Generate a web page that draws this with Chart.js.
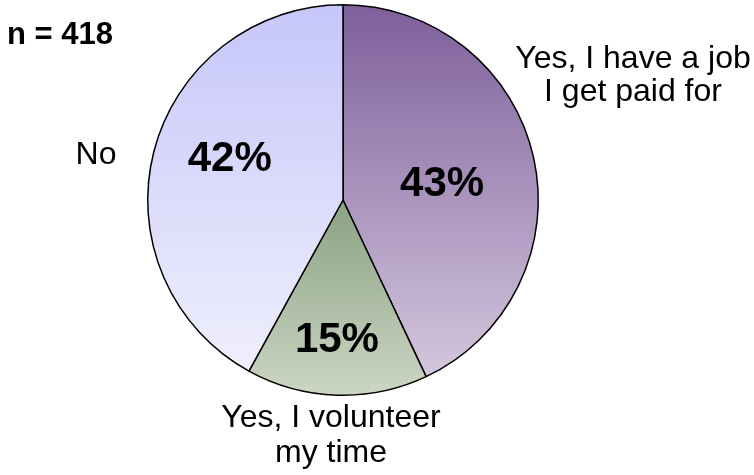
<!DOCTYPE html>
<html>
<head>
<meta charset="utf-8">
<script src="https://cdn.jsdelivr.net/npm/chart.js@4"></script>
<style>
  html, body { margin: 0; padding: 0; background: #fff; }
  #wrap { width: 754px; height: 475px; position: relative; }
</style>
</head>
<body>
<div id="wrap"><canvas id="pie"></canvas></div>
<script>
// data
const categories = ['Yes, I have a job I get paid for', 'Yes, I volunteer my time', 'No'];
const values = [43, 15, 42];
const sampleSize = 418;

// label text for outside slices (line by line)
const outerLines = [
  ['Yes, I have a job', 'I get paid for'],
  ['Yes, I volunteer', 'my time'],
  ['No']
];

// gradient colors: [top, bottom]
const sliceColors = [
  ['#7e5f9b', '#d8cce0'],
  ['#8aa283', '#ccd6c4'],
  ['#c6c6fa', '#f2f2fd']
];

// % text placement: [fraction of radius, degrees nudged off the slice middle]
const pctPlace = [[0.515, 2.9], [0.713, 0.7], [0.617, 5.6]];
// outer label anchors, offset from pie centre: dx, dy of first baseline, line gap
const outerOffset = [[290, -132, 33], [-12, 227, 35], [-247, -36, 35]];

function sliceFill(ctx) {
  const chart = ctx.chart;
  const area = chart.chartArea;
  const i = ctx.dataIndex;
  if (!area || !isFinite(area.top)) return sliceColors[i][0];
  const cy = (area.top + area.bottom) / 2;
  const top = i === 1 ? cy : area.top;
  const g = chart.ctx.createLinearGradient(0, top, 0, area.bottom);
  g.addColorStop(0, sliceColors[i][0]);
  g.addColorStop(1, sliceColors[i][1]);
  return g;
}

const labelPlugin = {
  id: 'labels',
  afterDatasetsDraw(chart) {
    const c = chart.ctx;
    const arcs = chart.getDatasetMeta(0).data;
    c.save();
    c.fillStyle = '#000';
    c.textAlign = 'center';
    c.textBaseline = 'middle';
    c.font = 'bold 42px "Liberation Sans", Arial, sans-serif';
    arcs.forEach((a, i) => {
      const mid = (a.startAngle + a.endAngle) / 2 + pctPlace[i][1] * Math.PI / 180;
      const rr = a.outerRadius * pctPlace[i][0];
      c.fillText(values[i] + '%', a.x + Math.cos(mid) * rr, a.y + Math.sin(mid) * rr + 1);
    });
    c.textBaseline = 'alphabetic';
    c.font = '32px "Liberation Sans", Arial, sans-serif';
    arcs.forEach((a, i) => {
      const o = outerOffset[i];
      outerLines[i].forEach((line, k) => {
        c.fillText(line, a.x + o[0], a.y + o[1] + k * o[2]);
      });
    });
    c.textAlign = 'left';
    c.font = 'bold 31px "Liberation Sans", Arial, sans-serif';
    c.fillText('n = ' + sampleSize, 7, 44);
    c.restore();
  }
};

new Chart(document.getElementById('pie'), {
  type: 'pie',
  data: {
    labels: categories,
    datasets: [{
      data: values,
      backgroundColor: sliceFill,
      borderColor: '#000',
      borderWidth: 1.5,
      borderAlign: 'center'
    }]
  },
  options: {
    responsive: true,
    maintainAspectRatio: false,
    animation: false,
    layout: { padding: { top: 4, bottom: 79, left: 0, right: 68 } },
    plugins: {
      legend: { display: false },
      tooltip: { enabled: false }
    }
  },
  plugins: [labelPlugin]
});
</script>
</body>
</html>
